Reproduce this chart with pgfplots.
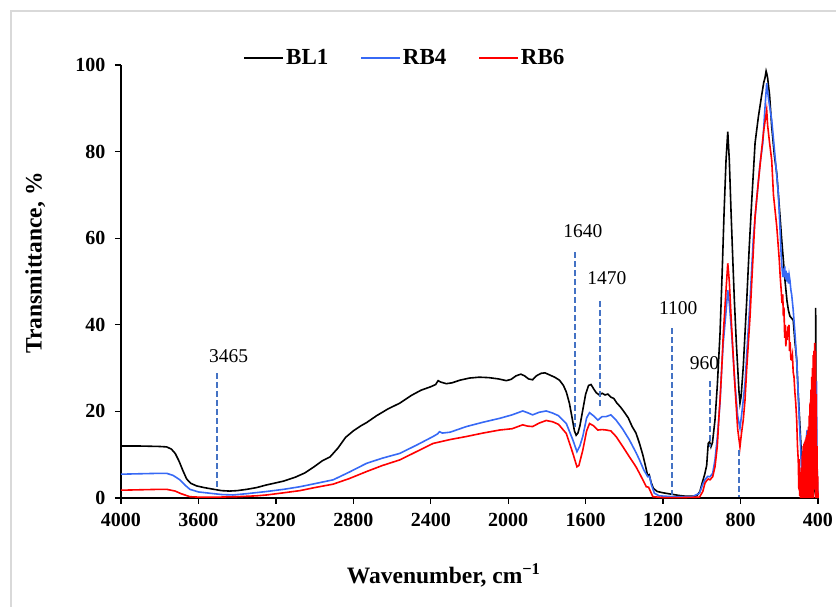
\documentclass[border=0pt]{standalone}
\usepackage{fontspec}
\setmainfont{Liberation Serif}
\usepackage{pgfplots}
\pgfplotsset{compat=1.18}
\definecolor{cblue}{RGB}{55,105,245}
\definecolor{cred}{RGB}{255,0,0}
\definecolor{dashc}{RGB}{68,114,196}
\definecolor{framec}{RGB}{217,217,217}
\begin{document}
\begin{tikzpicture}
\useasboundingbox (0,0) rectangle (836bp,607bp);
\draw[framec, line width=1.5bp] (11bp,0bp) -- (11bp,596bp) -- (836bp,596bp);
\begin{axis}[
  at={(121bp,109bp)}, anchor=south west,
  width=697bp, height=433bp, scale only axis,
  x dir=reverse,
  xmin=400, xmax=4000, ymin=0, ymax=100,
  xtick={400,800,...,4000}, ytick={0,20,...,100},
  axis x line*=bottom, axis y line*=left,
  every outer x axis line/.append style={-},
  every outer y axis line/.append style={-},
  axis line style={black, line width=1.5bp, -},
  tick align=outside, major tick length=6bp,
  tick style={black, line width=1.3bp},
  minor tick num=0,
  /pgf/number format/assume math mode=true,
  /pgf/number format/1000 sep={},
  ticklabel style={font=\bfseries\fontsize{20bp}{22bp}\selectfont},
  xticklabel style={yshift=-6bp},
  yticklabel style={xshift=-6bp},
  xlabel={\textbf{Wavenumber, cm\textsuperscript{−1}}},
  ylabel={\textbf{Transmittance, \%}},
  label style={font=\bfseries\fontsize{23.5bp}{25bp}\selectfont},
  xlabel style={at={(axis description cs:0.463,-0.178)}, anchor=center},
  ylabel style={at={(axis description cs:-0.123,0.543)}, anchor=center, rotate=0},
  legend columns=3,
  legend style={at={(axis description cs:0.4075,1.016)}, anchor=center, draw=none, fill=none,
    font=\bfseries\fontsize{23bp}{24bp}\selectfont,
    /tikz/every even column/.append style={column sep=30bp},
    inner xsep=0pt},
  legend image code/.code={\draw[#1] (0bp,0bp) -- (39bp,0bp);},
  clip=false,
]
\addplot[black, line width=1.6bp] table {
4000 12.0
3900 12.0
3800 11.9
3764 11.8
3740 11.3
3720 10.3
3700 8.5
3680 6.3
3661 4.4
3640 3.4
3610 2.8
3570 2.4
3520 2.0
3480 1.7
3440 1.6
3400 1.7
3350 2.0
3300 2.4
3250 3.0
3200 3.5
3160 3.9
3100 4.8
3050 5.8
3000 7.3
2960 8.6
2920 9.5
2880 11.5
2840 14.0
2800 15.5
2760 16.7
2732 17.4
2680 19.0
2620 20.6
2560 21.9
2500 23.7
2450 24.9
2400 25.7
2375 26.2
2362 27.1
2350 26.8
2320 26.4
2290 26.6
2250 27.2
2200 27.7
2150 27.9
2100 27.8
2050 27.5
2010 27.1
1985 27.4
1960 28.2
1935 28.6
1915 28.2
1895 27.5
1874 27.3
1855 28.2
1830 28.8
1810 28.9
1790 28.5
1760 27.9
1735 27.2
1715 26.0
1700 24.5
1684 21.9
1670 18.5
1658 15.5
1649 14.5
1640 15.0
1630 16.6
1615 20.3
1600 24.0
1585 26.0
1572 26.2
1560 25.3
1545 24.3
1530 23.8
1515 24.2
1500 23.8
1485 24.0
1470 23.3
1455 23.0
1440 22.0
1420 21.0
1400 19.8
1380 18.5
1360 16.5
1340 15.0
1322 12.6
1305 10.0
1290 7.2
1280 5.2
1272 5.4
1262 3.6
1250 2.2
1230 1.5
1200 1.2
1160 0.9
1120 0.6
1080 0.4
1050 0.4
1026 0.5
1010 1.5
998 3.5
985 5.5
975 7.5
967 12.6
960 13.0
953 11.8
945 12.8
932 18.0
920 26.0
906 38.0
895 52.0
885 66.0
875 78.0
866 84.6
858 78.0
849 66.0
840 55.0
832 45.7
822 36.0
815 30.3
808 24.5
803 21.9
797 23.5
786 30.3
777 38.0
768 45.7
755 58.0
742 68.8
725 82.0
708 88.0
691 93.0
680 96.0
674 97.0
668 98.6
665 98.1
660 97.0
650 93.0
639 85.7
625 79.0
613 75.0
605 70.4
596 65.0
588 60.0
579 55.0
570 50.0
560 45.5
553 43.4
545 42.0
536 41.5
528 41.1
519 36.0
510 31.9
502 24.0
493 16.5
484 8.8
476 1.0
465 0.3
440 0.3
425 0.5
418 2.0
414 15.0
412 43.9
410 20.0
407 3.0
400 0.5
};
\addlegendentry{BL1}
\addplot[cblue, line width=1.6bp] table {
4000 5.5
3900 5.6
3800 5.7
3764 5.7
3730 5.2
3696 4.2
3670 3.0
3644 2.0
3600 1.4
3541 1.1
3480 0.8
3422 0.7
3350 1.0
3248 1.5
3160 2.0
3076 2.6
3000 3.3
2904 4.2
2820 6.0
2732 8.0
2650 9.2
2560 10.3
2474 12.2
2388 14.2
2365 14.8
2355 15.3
2340 15.0
2300 15.2
2216 16.5
2130 17.5
2044 18.4
1980 19.2
1925 20.1
1900 19.7
1874 19.2
1840 19.8
1804 20.1
1770 19.6
1740 19.0
1700 17.2
1666 13.4
1645 10.7
1630 12.0
1615 14.2
1595 18.5
1580 19.7
1560 19.0
1537 18.0
1515 18.8
1494 18.8
1470 19.2
1443 18.0
1410 16.0
1374 13.4
1340 10.5
1322 8.8
1300 6.5
1279 4.9
1270 5.0
1260 3.0
1245 1.1
1220 0.5
1150 0.3
1050 0.3
1012 1.1
995 3.2
984 4.2
970 5.0
958 4.9
944 5.7
932 8.8
920 14.0
906 22.0
897 30.3
889 36.0
875 43.0
866 48.0
858 45.0
846 38.0
829 26.5
815 19.0
803 16.1
795 19.0
786 22.6
777 26.5
751 45.7
734 60.0
717 68.8
700 77.0
685 82.0
674 90.0
665 95.8
655 92.0
639 87.3
620 78.0
605 70.4
596 62.0
590 56.0
586 53.4
582 51.0
579 53.0
575 51.0
572 53.5
568 50.5
565 52.5
560 50.0
556 52.0
553 49.5
549 51.5
545 50.3
540 48.0
536 47.0
528 43.4
519 38.0
510 31.9
502 24.0
495 16.5
490 12.0
485 6.0
480 2.0
476 10.0
470 12.7
465 8.0
460 14.0
456 15.7
450 10.0
445 12.0
440 6.0
435 8.8
430 3.0
425 5.0
420 2.0
415 10.0
412 22.0
408 27.0
405 8.0
402 2.0
400 0.5
};
\addlegendentry{RB4}
\addplot[cred, line width=1.6bp] table {
4000 1.8
3900 1.9
3800 2.0
3764 2.0
3720 1.6
3690 1.0
3670 0.7
3644 0.3
3600 0.2
3500 0.2
3400 0.3
3300 0.5
3248 0.7
3160 1.2
3076 1.7
3000 2.4
2904 3.2
2820 4.5
2732 6.1
2650 7.5
2560 8.8
2474 10.7
2388 12.6
2300 13.5
2216 14.2
2130 15.0
2044 15.7
1980 16.0
1925 16.9
1900 16.6
1874 16.5
1840 17.3
1804 17.9
1770 17.6
1740 17.0
1700 14.9
1666 10.3
1645 7.2
1635 7.5
1615 11.0
1595 15.5
1580 17.2
1560 16.7
1537 15.7
1515 15.8
1494 15.7
1470 15.5
1443 14.2
1410 12.0
1374 9.5
1340 7.2
1322 5.7
1300 3.8
1287 2.6
1275 2.5
1265 1.5
1253 0.3
1200 0.1
1100 0.1
1012 0.2
995 1.5
984 3.4
975 4.0
967 4.4
958 4.2
944 4.9
932 7.2
920 12.0
910 20.0
906 22.6
897 30.0
889 38.0
875 48.0
866 54.2
858 50.0
849 41.9
832 28.0
815 16.0
803 11.8
795 15.0
786 18.0
777 22.6
768 30.0
751 41.9
742 50.0
725 65.0
708 73.0
691 80.4
680 85.0
670 88.0
665 89.6
660 86.0
650 82.0
639 78.0
630 70.0
613 62.7
605 58.0
600 55.0
595 51.0
590 48.0
586 45.0
582 47.0
579 42.0
576 44.0
572 37.0
569 40.0
566 35.0
563 38.0
560 36.5
556 39.6
553 38.0
550 40.0
547 34.0
544 36.0
540 32.0
536 31.9
532 33.0
528 29.0
524 28.0
519 24.2
515 22.0
510 18.0
506 12.0
502 8.8
499 2.0
497 9.0
495 0.5
493 6.0
491 0.0
489 4.0
487 0.0
485 7.0
483 0.0
481 10.0
479 0.0
477 12.0
475 1.0
473 12.5
471 0.0
469 13.0
467 2.0
465 13.5
463 0.0
461 14.0
459 1.0
457 14.5
455 0.0
453 15.5
451 2.0
449 16.5
447 0.0
445 19.0
443 3.0
441 22.0
439 0.0
437 25.0
435 2.0
433 28.0
431 0.0
429 30.0
427 3.0
425 33.0
423 0.0
421 34.0
419 5.0
417 35.8
415 2.0
413 34.0
411 0.0
409 24.0
407 0.0
405 12.0
403 0.0
401 5.0
400 0.0
};
\addlegendentry{RB6}
% annotation guide lines
\addplot[dashc, line width=1.8bp, dash pattern=on 6bp off 3bp, forget plot] coordinates {(3503,28.8) (3503,2.6)};
\addplot[dashc, line width=1.8bp, dash pattern=on 6bp off 3bp, forget plot] coordinates {(1655,56.8) (1655,16.5)};
\addplot[dashc, line width=1.8bp, dash pattern=on 6bp off 3bp, forget plot] coordinates {(1526,45.5) (1526,20.7)};
\addplot[dashc, line width=1.8bp, dash pattern=on 6bp off 3bp, forget plot] coordinates {(1154,39.2) (1154,0.7)};
\addplot[dashc, line width=1.8bp, dash pattern=on 6bp off 3bp, forget plot] coordinates {(958,27) (958,11.8)};
\addplot[dashc, line width=1.8bp, dash pattern=on 6bp off 3bp, forget plot] coordinates {(809,11) (809,0.3)};
\begin{scope}[every node/.style={font=\fontsize{19.5bp}{21bp}\selectfont, anchor=base, inner sep=0pt}]
\node at (axis cs:3444,31.3) {3465};
\node at (axis cs:1614,60.2) {1640};
\node at (axis cs:1490,49.4) {1470};
\node at (axis cs:1122,42.3) {1100};
\node at (axis cs:986,29.6) {960};
\end{scope}
\end{axis}
\end{tikzpicture}
\end{document}
